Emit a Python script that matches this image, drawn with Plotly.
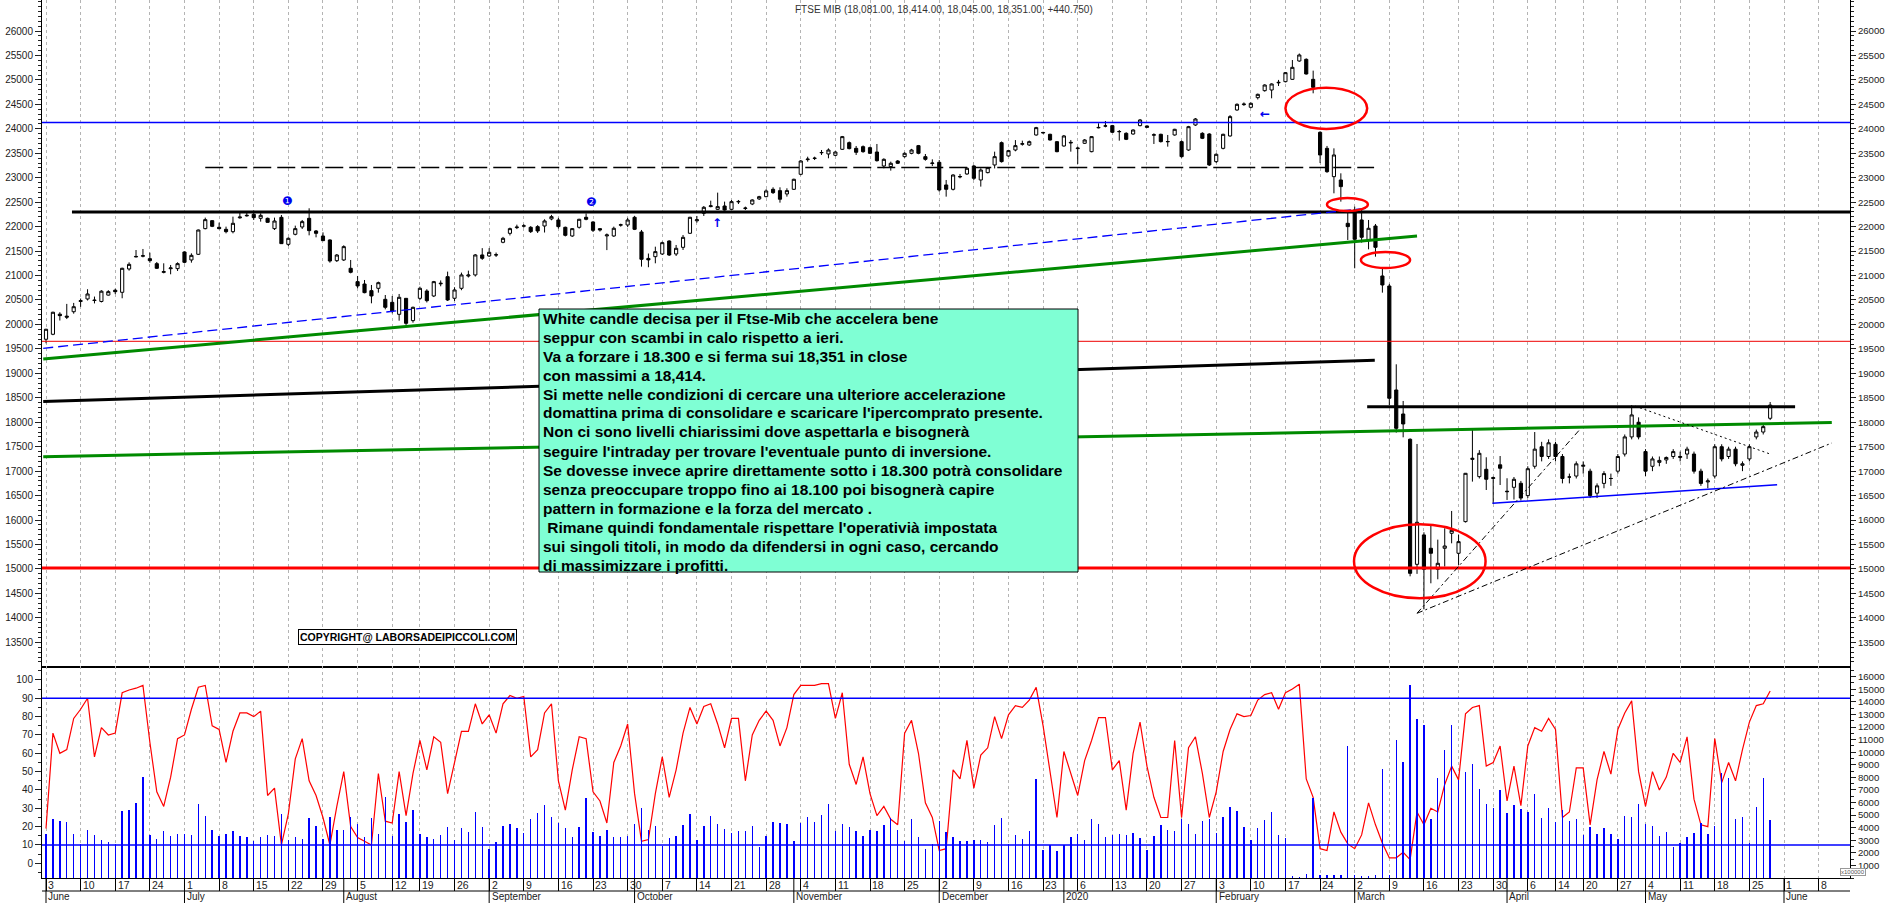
import pandas as pd
import plotly.graph_objects as go

# ---------------- calendar (trading days of Borsa Italiana) ----------------
holidays = ["2019-08-15", "2019-12-24", "2019-12-25", "2019-12-26", "2019-12-31",
            "2020-01-01", "2020-04-10", "2020-04-13", "2020-05-01"]
cal = pd.bdate_range("2019-06-03", "2020-06-12")
cal = cal[~cal.isin(pd.to_datetime(holidays))]

# ---------------- FTSE MIB daily OHLC ----------------
open_ = [19697,19799,20210,20170,20260,20470,20521,20500,20470,20600,
         20700,20657,21134,21380,21395,21345,21243,21065,21140,21141,
         21482,21318,21434,21959,22122,21986,21945,21897,22180,22220,
         22252,22170,22170,21959,22190,21638,21843,21993,22170,21911,
         21808,21727,21304,21318,21148,20875,20827,20691,20739,20514,
         20452,20207,20534,20078,20534,20684,20582,20830,20977,20535,
         20739,20990,21012,21421,21400,21420,21680,21863,21980,22010,
         21986,22000,22013,22157,22136,21986,21809,21986,22191,22095,
         21959,21810,21809,22030,22034,22191,21891,21350,21386,21441,
         21706,21441,21577,21864,22120,22272,22410,22354,22422,22354,
         22505,22370,22463,22566,22613,22763,22736,22668,22763,23070,
         23370,23393,23510,23486,23458,23581,23717,23601,23635,23615,
         23526,23240,23227,23342,23431,23499,23656,23431,23290,23315,
         22852,22763,23015,23077,23240,22954,23104,23261,23717,23445,
         23567,23685,23670,23874,23915,23888,23737,23649,23710,23595,
         23704,23533,24020,24055,24065,23940,23908,23894,24065,24058,
         23870,23888,23735,23874,23738,23567,24078,23908,23894,23329,
         23601,23854,24385,24495,24440,24637,24780,24794,24940,24964,
         25012,25387,25421,25012,23928,23601,23022,22954,22068,22340,
         22136,21727,22013,20991,20786,18660,18169,17652,15095,15696,
         15423,14993,15423,15730,15321,15968,17240,16888,17038,16850,
         17130,16590,16670,16752,16500,17100,17500,17300,17550,17300,
         16880,16900,17100,17000,16550,16750,16850,17000,17350,17700,
         18000,17400,17100,17180,17230,17300,17280,17350,17350,17000,
         16780,16900,17500,17300,17450,17120,17250,17700,17800,18081]
high = [19910,20260,20250,20420,20440,20530,20720,20570,20700,20700,
        20730,21160,21270,21522,21543,21468,21277,21250,21216,21270,
        21495,21454,21940,22184,22130,22081,22000,22204,22286,22286,
        22327,22272,22184,22184,22238,21781,22020,22136,22375,21931,
        21883,21740,21440,21618,21318,20991,20909,20807,20875,20602,
        20582,20623,20534,20364,20773,20720,20890,20900,21080,20760,
        21060,21100,21440,21560,21560,21470,21790,21980,22040,22050,
        22010,22030,22150,22240,22180,22000,21970,22160,22270,22110,
        21970,21860,22000,22060,22180,22220,21932,21450,21590,21693,
        21720,21625,21829,22200,22218,22422,22531,22695,22511,22545,
        22545,22409,22560,22630,22763,22804,22804,22784,22980,23362,
        23430,23430,23567,23600,23540,23854,23740,23649,23660,23635,
        23690,23397,23329,23360,23520,23590,23670,23485,23376,23362,
        22954,23070,23077,23210,23261,23193,23220,23533,23740,23570,
        23770,23758,23760,24040,23940,23900,23750,23874,23772,23635,
        23790,23850,24113,24160,24080,23976,23930,23990,24201,24070,
        23908,23900,23874,24000,23760,24060,24220,23930,23910,23500,
        23900,24280,24520,24540,24540,24720,24910,24930,25000,25160,
        25407,25540,25440,25190,23950,23650,23601,23090,22286,22409,
        22340,22136,22054,21148,20830,19185,18435,17670,17556,15750,
        15900,15600,15832,16186,15700,16963,17842,17430,17284,16889,
        17310,16855,16880,16800,17100,17800,17600,17650,17600,17350,
        16950,17200,17200,17050,16750,17000,16950,17350,17750,18350,
        18100,17450,17300,17300,17300,17450,17400,17500,17400,17050,
        16850,17550,17550,17500,17500,17200,17550,17850,17950,18414]
low = [19615,19780,20080,20110,20220,20360,20490,20430,20450,20590,
       20620,20535,21100,21372,21372,21263,21134,21045,21025,21093,
       21250,21263,21420,21945,21990,21945,21863,21863,22163,22204,
       22136,22102,22081,21931,21645,21604,21822,21952,21822,21781,
       21706,21263,21277,21297,21045,20740,20637,20432,20650,20309,
       20227,20077,19989,20036,20500,20450,20560,20780,20480,20480,
       20700,20960,20980,21320,21380,21380,21660,21820,21950,21980,
       21870,21870,21880,22130,21960,21800,21790,21960,22130,21890,
       21900,21520,21790,22000,21990,21930,21182,21170,21250,21420,
       21400,21400,21523,21850,22082,22218,22395,22340,22327,22340,
       22463,22340,22440,22545,22600,22668,22490,22613,22750,23050,
       23328,23362,23465,23397,23440,23567,23580,23465,23510,23485,
       23330,23192,23145,23280,23410,23480,23480,23349,23240,22715,
       22613,22740,22988,23060,22954,22818,23090,23190,23310,23430,
       23540,23656,23650,23860,23900,23760,23520,23635,23533,23281,
       23690,23520,24010,24030,23915,23758,23770,23880,24050,24020,
       23690,23720,23635,23860,23410,23550,24060,23790,23240,23300,
       23580,23840,24370,24470,24420,24600,24760,24624,24876,24950,
       25000,25370,25110,24726,23300,23100,22681,22511,21727,21148,
       21673,21536,21386,20650,18350,17788,17692,14850,14900,14175,
       14707,14789,15050,15525,15083,15950,16786,16850,16615,16329,
       16717,16411,16420,16400,16450,17050,17200,17250,17200,16750,
       16750,16850,16950,16450,16450,16650,16700,16950,17300,17650,
       17650,16900,17000,17100,17150,17250,17200,17250,16950,16700,
       16650,16850,17200,17250,17100,17000,17200,17650,17750,18045]
close = [19901,20249,20180,20150,20363,20486,20623,20490,20680,20670,
         20670,21148,21229,21390,21405,21304,21148,21080,21155,21243,
         21270,21413,21931,22143,22006,21959,21897,22068,22195,22230,
         22184,22231,22088,22115,21652,21761,21959,22102,21918,21863,
         21713,21297,21420,21591,21066,20787,20650,20582,20854,20350,
         20275,20555,20023,20350,20739,20486,20875,20841,20500,20705,
         21012,21010,21421,21352,21475,21425,21761,21959,21990,22016,
         21898,21911,22116,22204,22000,21822,21959,22150,22150,21925,
         21932,21830,21966,22038,22136,21945,21332,21320,21489,21672,
         21420,21557,21781,22191,22140,22395,22425,22409,22340,22511,
         22515,22380,22545,22613,22729,22695,22560,22736,22968,23342,
         23380,23400,23516,23567,23526,23840,23595,23520,23533,23499,
         23349,23376,23295,23295,23499,23567,23499,23376,23300,22749,
         22763,23056,23025,23193,22988,23158,23206,23431,23329,23554,
         23656,23695,23737,24024,23925,23772,23533,23854,23722,23605,
         23772,23840,24028,24060,23929,23945,23785,23976,24181,24031,
         23878,23738,23740,23990,23431,24044,24201,23806,23261,23479,
         23888,24249,24501,24505,24521,24705,24896,24917,24950,25148,
         25257,25510,25121,24848,23465,23124,23465,22818,22000,21741,
         21782,21966,21577,20807,18490,17876,17965,14911,15955,14993,
         15321,15116,15470,15790,15559,16956,17263,17365,16834,16867,
         17059,16581,16834,16450,17050,17450,17300,17580,17300,16850,
         16880,17150,17120,16500,16700,16950,16850,17300,17700,18150,
         17700,17000,17250,17220,17280,17400,17300,17450,17000,16750,
         16800,17500,17250,17450,17150,17150,17500,17800,17910,18351]

# ---------------- lower panel: oscillator (left axis) and volume (right axis, x100000) ----------------
oscillator = [19,71,60,62,79,84,90,58,74,70, 71,93,94.5,95.5,97,66,39,31,47,68,
              70,84,96,97,75,73,55,72,82,82, 80,83,37,41,10,27,57,68,45,37,
              25,10,31,50,20,14,12,10,49,23, 22,50,26,49,67,51,69,66,38,56,
              72,72,87,76,81,71,87,91.5,90,91, 58,62,82,87,45,29,51,69,68,39,
              34,22,55,64,76,38,12,13,38,58, 36,51,71,85,76,85.5,87,76,63,79,
              79,45,70,78,83,78,64,74,92,97, 97,97,98,98,79,93,54,43,58,38,
              26,31,24,21,71,78,60,33,25,7, 8,51,46,67,41,59,63,80,68,81,
              86,85,89,96,75,50,25,61,49,37, 56,67,79.5,79.5,51,56,29,60,77,53,
              36,25,25,67,25,63,69,49,25,39, 61,73,81.5,80,80.6,89,92,93,84,93,
              95,97.7,46,36,8,7,28,17,10.6,8, 15.5,33,21,11,3,3,6,2,28,21,
              30,28,43,53,45.5,81.5,85,86,53,55, 64,34,53,31.5,64,74,72,79,73,25,
              28,52,52,21,45.5,61,48.6,73,82,88.6, 50,31,50,40,47,60,55,69,35,21,
              20,68,44,55,45,62,77,86,87,94]
volume = [3520,4662,4500,4420,3520,2670,3780,3380,2990,2850, 2670,5325,5380,5960,8030,3440,3070,3700,3310,3470,
          3520,3380,5855,4900,3780,3330,3520,3700,3330,3250, 2910,3250,3380,3330,5060,2990,3250,3070,4770,4130,
          3070,4850,3780,3780,4850,4320,3250,4770,3520,6440, 3330,5060,4450,5380,3520,3250,3070,3380,4050,2990,
          3970,3650,5220,4050,2320,2850,4130,4320,3990,3570, 4690,5170,5780,4850,4370,3990,3250,4050,6360,3650,
          3330,3780,3250,3250,3330,4260,5560,3840,4100,2510, 3170,3310,4180,5110,2990,4130,4900,4320,3920,3600,
          3730,3730,4100,2460,3310,4420,4370,4320,2910,4370, 4850,4450,4980,5910,3700,4320,4050,3700,3310,3780,
          3730,4180,4800,3780,2910,4720,3250,2320,2670,4500, 3650,3250,2910,2910,2990,2990,2830,4180,4770,2720,
          3380,3070,3700,7900,2240,2590,2110,2640,3250,3470, 2990,4720,4260,3250,3380,3470,3380,3600,3170,2190,
          3310,4180,3780,3700,4690,4260,3520,4500,4720,3600, 4850,5640,5300,4050,2990,3990,4580,5250,3380,3170,
          150,100,330,6360,200,250,250,250,10480,200, 150,150,250,8650,200,10960,9230,15340,12630,12150,
          4700,7950,10160,12150,7770,8430,9040,7100,5910,5560, 6970,5170,5780,5460,5250,6710,4770,5560,4450,5380,
          4500,4660,3380,4050,3470,3990,3470,3070,4900,4850, 5910,4320,4130,3330,3620,2460,2780,3250,3600,4370,
          3470,4130,8380,7980,4660,4850,2780,5640,7950,4580]

idx = list(range(len(close)))

main_ticks = list(range(13500, 26001, 500))
osc_ticks = list(range(0, 101, 10))
vol_ticks = list(range(1000, 16001, 1000))

title_text = "FTSE MIB (18,081.00, 18,414.00, 18,045.00, 18,351.00, +440.750)"
comment_lines = [
    "White candle decisa per il Ftse-Mib che accelera bene",
    "seppur con scambi in calo rispetto a ieri.",
    "Va a forzare i 18.300 e si ferma sui 18,351 in close",
    "con massimi a 18,414.",
    "Si mette nelle condizioni di cercare una ulteriore accelerazione",
    "domattina prima di consolidare e scaricare l'ipercomprato presente.",
    "Non ci sono livelli chiarissimi dove aspettarla e bisognerà",
    "seguire l'intraday per trovare l'eventuale punto di inversione.",
    "Se dovesse invece aprire direttamente sotto i 18.300 potrà consolidare",
    "senza preoccupare troppo fino ai 18.100 poi bisognerà capire",
    "pattern in formazione e la forza del mercato .",
    " Rimane quindi fondamentale rispettare l'operativià impostata",
    "sui singoli titoli, in modo da difendersi in ogni caso, cercando",
    "di massimizzare i profitti.",
]
month_names = ["January", "February", "March", "April", "May", "June", "July",
               "August", "September", "October", "November", "December"]

# ---------------- geometry ----------------
W, H = 1890, 903
ML, MR, MT, MB = 42, 40, 0, 25
PW, PH = W - ML - MR, H - MT - MB
SPLIT = 666  # pixel row of the panel separator
XMIN, XMAX = -0.578, 260.53
main_range = [13016, 26634]
osc_range = [-8, 107.6]
vol_range = [0, 16850]

def px(xp):
    return (xp - ML) / PW

def py(yp):
    return 1 - (yp - MT) / PH

FONT = "Liberation Sans, Arial, sans-serif"

# week ticks: first trading day of each week (the week of 30 Dec is not labelled)
keys = [(d.isocalendar()[0], d.isocalendar()[1]) for d in cal]
week_pos, week_lab = [], []
seen = set()
for i, (d, k) in enumerate(zip(cal, keys)):
    if k in seen:
        continue
    seen.add(k)
    if d == pd.Timestamp("2019-12-30"):
        continue
    week_pos.append(i)
    week_lab.append(str(d.day))
month_pos, month_lab = [], []
prev = None
for i, d in enumerate(cal):
    if d.month != prev:
        month_pos.append(i)
        month_lab.append("2020" if (d.year == 2020 and d.month == 1) else month_names[d.month - 1])
        prev = d.month

fig = go.Figure()
fig.add_trace(go.Candlestick(
    x=idx, open=open_, high=high, low=low, close=close, xaxis="x", yaxis="y",
    increasing=dict(line=dict(color="black", width=1), fillcolor="white"),
    decreasing=dict(line=dict(color="black", width=1), fillcolor="black"),
    whiskerwidth=0, showlegend=False, hoverinfo="skip"))
fig.add_trace(go.Scatter(x=[0], y=[20000], xaxis="x", yaxis="y3", mode="markers",
                         marker=dict(opacity=0), showlegend=False, hoverinfo="skip"))
fig.add_trace(go.Bar(x=idx, y=volume, xaxis="x2", yaxis="y4", width=0.2,
                     marker=dict(color="#0000ff", line=dict(width=0)),
                     showlegend=False, hoverinfo="skip"))
fig.add_trace(go.Scatter(x=idx, y=oscillator, xaxis="x2", yaxis="y2", mode="lines",
                         line=dict(color="#ff0000", width=1.2), showlegend=False, hoverinfo="skip"))

leftfont = dict(family=FONT, size=10, color="#222222")
rightfont = dict(family=FONT, size=9.6, color="#222222")
grid = dict(showgrid=True, gridcolor="#b4b4b4", gridwidth=1, griddash="3px,3px")
dom_main = [1 - (SPLIT - MT) / PH, 1]
dom_low = [0, 1 - (SPLIT - MT) / PH]

def yax(rng, ticks, minor, font, tlen, **kw):
    d = dict(range=rng, tickvals=ticks, ticktext=[str(t) for t in ticks],
             ticks="outside", ticklen=tlen, tickcolor="#222", showgrid=False, zeroline=False,
             showline=True, linecolor="black", linewidth=1, tickfont=font,
             minor=dict(dtick=minor, ticks="outside", ticklen=3, tickcolor="#222", showgrid=False))
    d.update(kw)
    return d

fig.update_layout(
    width=W, height=H, margin=dict(l=ML, r=MR, t=MT, b=MB),
    paper_bgcolor="white", plot_bgcolor="white", showlegend=False,
    boxgap=0.35, bargap=0,
    xaxis=dict(domain=[0, 1], anchor="y", range=[XMIN, XMAX], tickvals=week_pos,
               showticklabels=False, ticks="", showline=True, linecolor="black", linewidth=1.5,
               rangeslider=dict(visible=False), zeroline=False, **grid),
    xaxis2=dict(domain=[0, 1], anchor="y2", range=[XMIN, XMAX], tickvals=week_pos,
                showticklabels=False, ticks="outside", ticklen=12, tickcolor="black", tickwidth=1,
                showline=True, linecolor="black", linewidth=1, zeroline=False, **grid),
    yaxis=yax(main_range, main_ticks, 100, leftfont, 6, domain=dom_main, anchor="x"),
    yaxis3=yax(main_range, main_ticks, 100, rightfont, 5, overlaying="y", side="right", anchor="x"),
    yaxis2=yax(osc_range, osc_ticks, 5, leftfont, 6, domain=dom_low, anchor="x2"),
    yaxis4=yax(vol_range, vol_ticks, 500, rightfont, 5, overlaying="y2", side="right", anchor="x2"),
)

shapes = []
def seg(x0, y0, x1, y1, color, width, dash=None, xref="x", yref="y"):
    shapes.append(dict(type="line", x0=x0, y0=y0, x1=x1, y1=y1, xref=xref, yref=yref,
                       layer="above", line=dict(color=color, width=width, dash=dash)))

# full-width horizontal levels
seg(0, 24130, 1, 24130, "#0000ff", 1.5, xref="x domain")
seg(0, 19655, 1, 19655, "#ee0000", 1, xref="x domain")
seg(0, 15021, 1, 15021, "#ff0000", 3, xref="x domain")
# trend / level lines
seg(3.75, 22300, XMAX, 22300, "black", 3)
seg(23.0, 23210, 191.8, 23210, "black", 1.5, dash="18px,6px")
seg(-0.4, 19512, 190.9, 22378, "#0000ff", 1.3, dash="10px,5px")
seg(-0.4, 19294, 198.0, 21808, "#008a00", 3)
seg(-0.4, 17297, 257.9, 17995, "#008a00", 3)
seg(-0.4, 18422, 191.9, 19266, "black", 3)
seg(190.8, 18319, 252.6, 18319, "black", 3)
seg(208.9, 16343, 250.0, 16720, "#0000ff", 1.5)
seg(198.0, 14094, 221.5, 17850, "black", 1, dash="6px,3px,2px,3px")
seg(198.0, 14094, 257.9, 17576, "black", 1, dash="6px,3px,2px,3px")
seg(229.5, 18330, 249.0, 17350, "black", 1, dash="2px,3px")
# lower panel reference levels
seg(0, 90, 1, 90, "#0000ff", 1.5, xref="x2 domain", yref="y2")
seg(0, 10, 1, 10, "#0000ff", 1.5, xref="x2 domain", yref="y2")
# red ellipses
for (x0, x1, y0, y1) in [(179.0, 190.8, 23996, 24841), (185.0, 190.9, 22320, 22586),
                         (189.9, 197.0, 21154, 21481), (188.9, 207.9, 14401, 15914)]:
    shapes.append(dict(type="circle", xref="x", yref="y", x0=x0, x1=x1, y0=y0, y1=y1,
                       layer="above", line=dict(color="#ff0000", width=2.5)))
# comment box
shapes.append(dict(type="rect", xref="paper", yref="paper", x0=px(539), x1=px(1078),
                   y0=py(572), y1=py(309), layer="above",
                   fillcolor="#7fffd4", line=dict(color="black", width=1)))
# date rows
shapes.append(dict(type="line", xref="paper", yref="paper", x0=0, x1=1, y0=py(891), y1=py(891),
                   line=dict(color="black", width=1)))
for m in month_pos:
    shapes.append(dict(type="line", xref="x2", yref="paper", x0=m, x1=m, y0=py(878), y1=py(903),
                       line=dict(color="black", width=1)))
fig.update_layout(shapes=shapes)

ann = []
ann.append(dict(x=px(944), y=py(9), xref="paper", yref="paper", text=title_text, showarrow=False,
                font=dict(family=FONT, size=10, color="#333333"), xanchor="center", yanchor="middle"))
for k, line in enumerate(comment_lines):
    txt = line.replace(" ", "&nbsp;", 1) if line.startswith(" ") else line
    ann.append(dict(x=px(541), y=py(318 + 19 * k), xref="paper", yref="paper",
                    text="<b>%s</b>" % txt, showarrow=False, xanchor="left", yanchor="middle",
                    font=dict(family=FONT, size=15.5, color="black")))
ann.append(dict(x=px(298), y=py(644.5), xref="paper", yref="paper",
                text="<b>COPYRIGHT@ LABORSADEIPICCOLI.COM</b>", showarrow=False,
                font=dict(family=FONT, size=10.5, color="black"), bgcolor="white",
                bordercolor="black", borderwidth=1, borderpad=1))
ann.append(dict(x=px(1866), y=py(875.5), xref="paper", yref="paper", text="x100000", showarrow=False,
                font=dict(family=FONT, size=6, color="#555"), bordercolor="#999", borderwidth=1,
                borderpad=0, bgcolor="white"))
ann.append(dict(x=34.9, y=22515, xref="x", yref="y", text="❶", showarrow=False,
                font=dict(family="DejaVu Sans", size=12, color="#0000ee")))
ann.append(dict(x=78.8, y=22495, xref="x", yref="y", text="❷", showarrow=False,
                font=dict(family="DejaVu Sans", size=12, color="#0000ee")))
ann.append(dict(x=96.9, y=22080, xref="x", yref="y", text="<b>↑</b>", showarrow=False,
                font=dict(family="DejaVu Sans", size=12, color="#0000ee")))
ann.append(dict(x=176.0, y=24303, xref="x", yref="y", text="<b>←</b>", showarrow=False,
                font=dict(family="DejaVu Sans", size=12, color="#0000ee")))
for p, lab in zip(week_pos, week_lab):
    ann.append(dict(x=p + 0.2, y=py(884.5), xref="x2", yref="paper", text=lab, showarrow=False,
                    xanchor="left", yanchor="middle", borderpad=0,
                    font=dict(family=FONT, size=10.5, color="#222")))
for p, lab in zip(month_pos, month_lab):
    ann.append(dict(x=p + 0.2, y=py(896), xref="x2", yref="paper", text=lab, showarrow=False,
                    xanchor="left", yanchor="middle", borderpad=0,
                    font=dict(family=FONT, size=10, color="#222")))
fig.update_layout(annotations=ann)

# remove the browser's default 8px body margin so the figure sits at the page origin
fig.write_html("out.html", config={"displayModeBar": False, "staticPlot": True},
               post_script="document.body.style.margin='0px';document.body.style.overflow='hidden';")
